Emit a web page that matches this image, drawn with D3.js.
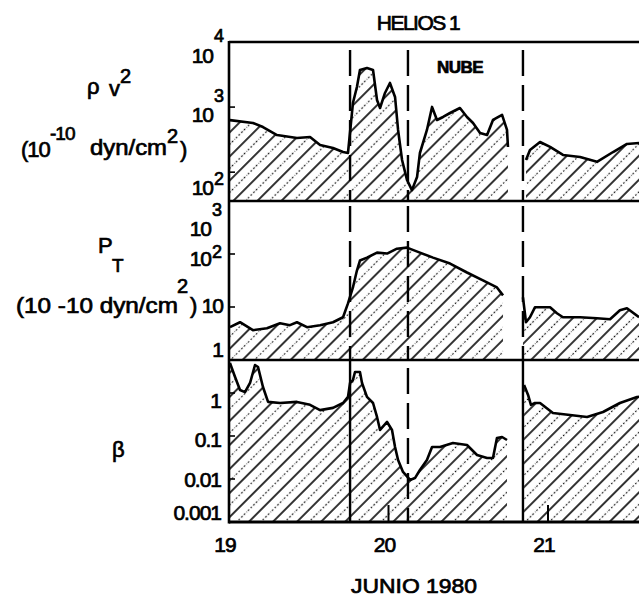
<!DOCTYPE html>
<html>
<head>
<meta charset="utf-8">
<script src="https://cdn.jsdelivr.net/npm/d3@7/dist/d3.min.js"></script>
<style>
  body { margin: 0; background: #fff; }
  svg { display: block; font-family: "Liberation Sans", Arial, sans-serif; }
  .lbl { fill: #000; stroke: #000; stroke-width: 0.7; }
</style>
</head>
<body>
<svg id="chart" width="639" height="601"></svg>
<script>
// ---- data: HELIOS 1, 19-21 June 1980 ----
const pv2Days = [19.006,19.150,19.213,19.301,19.426,19.508,19.571,19.652,19.715,19.746,
  19.777,19.802,19.821,19.865,19.903,19.928,19.947,19.978,20.009,20.041,20.060,20.085,
  20.116,20.147,20.179,20.197,20.241,20.273,20.304,20.342,20.386,20.448,20.492,20.530,
  20.574,20.618,20.655,20.712,20.743,20.749,20.800,
  20.862,20.887,20.950,21.013,21.094,21.201,21.307,21.408,21.495,21.571];
const pv2Values = [631,570,494,372,335,347,262,235,204,197,
  1155,2036,3715,3990,3715,1285,969,1648,2346,1429,445,154,
  76,53,84,197,445,1005,634,705,811,968,705,570,
  400,372,634,757,445,244,null,
  154,219,291,244,184,171,144,204,271,281];

const ptDays = [19.006,19.069,19.150,19.238,19.320,19.382,19.426,19.489,19.571,19.652,
  19.715,19.746,19.777,19.802,19.821,19.865,19.928,19.991,20.053,20.116,20.197,20.279,
  20.386,20.492,20.592,20.680,20.718,20.780,
  20.843,20.862,20.887,20.918,21.013,21.056,21.094,21.201,21.307,21.389,21.451,21.495,21.571];
const ptValues = [4.16,5.16,3.65,3.98,4.94,4.54,5.16,4.16,4.54,5.16,
  6.41,11.7,23.4,48.8,75.2,85.5,106,102,126,132,106,85.5,
  66,44.8,31.7,23.4,16.6,null,
  15.2,5.16,6.41,9.87,9.87,7.62,6.41,6.41,6.14,5.88,8.67,9.46,6.41];

const betaDays = [19.006,19.038,19.069,19.100,19.132,19.163,19.182,19.213,19.245,19.320,
  19.426,19.508,19.571,19.652,19.715,19.746,19.759,19.777,19.790,19.821,19.834,19.865,
  19.903,19.928,19.947,19.991,20.022,20.041,20.060,20.091,20.135,20.166,20.197,20.241,
  20.273,20.323,20.404,20.492,20.555,20.618,20.655,20.680,20.712,20.743,20.800,
  20.850,20.875,20.893,20.918,20.950,21.031,21.138,21.245,21.345,21.451,21.558,21.571];
const betaValues = [4.99,2.36,1.17,1.05,1.71,4.48,4.02,1.38,0.62,0.585,
  0.62,0.53,0.40,0.45,0.585,0.81,1.71,2.0,3.08,3.08,1.71,0.81,
  0.585,0.277,0.138,0.212,0.138,0.0555,0.0277,0.0146,0.0095,0.0105,0.0162,0.0277,
  0.0555,0.0555,0.0687,0.0618,0.0362,0.0308,0.0308,0.0898,0.0948,0.0807,null,
  1.53,0.90,0.53,0.585,0.585,0.343,0.308,0.277,0.361,0.585,0.81,0.82];

const dayTicks = [19, 20, 21];
const dayTickLabels = ["19", "20", "21"];
const cloudEdges = [19.759, 20.122, 20.843];

const pv2Ticks = [100, 1000, 10000];
const pv2TickLabels = [["10","2"], ["10","3"], ["10","4"]];
const ptTicks = [1, 10, 100, 1000];
const ptTickLabels = [["1",""], ["10",""], ["10","2"], ["10","3"]];
const betaTicks = [0.001, 0.01, 0.1, 1];
const betaTickLabels = [["0.001",""], ["0.01",""], ["0.1",""], ["1",""]];

// ---- layout ----
const svg = d3.select("#chart");
const left = 229, right = 639;
const x = d3.scaleLinear().domain([19, 21]).range([229, 548]);

const defs = svg.append("defs");
const pat = defs.append("pattern")
  .attr("id", "hatch").attr("patternUnits", "userSpaceOnUse")
  .attr("width", 17).attr("height", 17)
  .attr("patternTransform", "rotate(45)");
pat.append("line").attr("x1", 1).attr("x2", 1).attr("y1", -1).attr("y2", 18)
  .attr("stroke", "#000").attr("stroke-width", 1.6);
pat.append("line").attr("x1", 9.5).attr("x2", 9.5).attr("y1", -1).attr("y2", 18)
  .attr("stroke", "#000").attr("stroke-width", 1.2).attr("stroke-dasharray", "1.6,2.2");

const panels = [
  { id: "pv2", top: 42, bottom: 202, scale: d3.scaleLog().domain([34.8, 10000]).range([202, 42]),
    days: pv2Days, values: pv2Values, ticks: pv2Ticks, tickLabels: pv2TickLabels,
    labelDy: [23, 15, 21], supDy: [-10, -20, -21], labelX: 213, dashTop: 50, solidEdges: [] },
  { id: "pt", top: 201, bottom: 360, scale: d3.scaleLog().domain([1, 1000]).range([360, 201]),
    days: ptDays, values: ptValues, ticks: ptTicks, tickLabels: ptTickLabels,
    labelDy: [-3, 6, 12, 35], supDy: [0, 0, -8, -20], labelX: 223, dashTop: 206, solidEdges: [] },
  { id: "beta", top: 360, bottom: 522, scale: d3.scaleLog().domain([0.001, 5.85]).range([522, 360]),
    days: betaDays, values: betaValues, ticks: betaTicks, tickLabels: betaTickLabels,
    labelDy: [-2, 8, 11, 15], supDy: [0, 0, 0, 0], labelX: 221, dashTop: 368, solidEdges: [0, 2] }
];
// superscripted labels end a little further right
const supX = { pv2: 213, pt: 211 };

panels.forEach(p => {
  const clipId = "clip-" + p.id;
  defs.append("clipPath").attr("id", clipId)
    .append("rect").attr("x", left).attr("y", p.top).attr("width", right - left).attr("height", p.bottom - p.top);

  const pts = p.days.map((d, i) => ({ d, v: p.values[i] }));
  const g = svg.append("g").attr("clip-path", `url(#${clipId})`);

  const area = d3.area()
    .defined(e => e.v != null)
    .x(e => x(e.d)).y0(p.bottom).y1(e => p.scale(e.v));
  const line = d3.line()
    .defined(e => e.v != null)
    .x(e => x(e.d)).y(e => p.scale(e.v));

  g.append("path").attr("d", area(pts)).attr("fill", "url(#hatch)");
  g.append("path").attr("d", line(pts)).attr("fill", "none")
    .attr("stroke", "#000").attr("stroke-width", 2.6).attr("stroke-linejoin", "round");

  // cloud boundaries
  cloudEdges.forEach((c, i) => {
    const solid = p.solidEdges.includes(i);
    g.append("line")
      .attr("x1", x(c)).attr("x2", x(c))
      .attr("y1", solid ? p.top : p.dashTop).attr("y2", p.bottom)
      .attr("stroke", "#000").attr("stroke-width", 2.4)
      .attr("stroke-dasharray", solid ? null : "26,9");
  });

  // left-axis ticks
  p.ticks.forEach((t, i) => {
    const ty = p.scale(t);
    svg.append("line").attr("x1", left).attr("x2", left + 6)
      .attr("y1", ty).attr("y2", ty).attr("stroke", "#000").attr("stroke-width", 1.6);
    const [base, sup] = p.tickLabels[i];
    svg.append("text").attr("class", "lbl")
      .attr("text-anchor", "end")
      .attr("x", sup ? supX[p.id] : p.labelX)
      .attr("y", ty + p.labelDy[i])
      .attr("font-size", 21).attr("letter-spacing", -1)
      .text(base);
    if (sup) {
      svg.append("text").attr("class", "lbl")
        .attr("x", supX[p.id] + 1)
        .attr("y", ty + p.labelDy[i] + p.supDy[i])
        .attr("font-size", 18)
        .text(sup);
    }
  });

  // panel frame line
  svg.append("line").attr("x1", left).attr("x2", right)
    .attr("y1", p.top).attr("y2", p.top).attr("stroke", "#000").attr("stroke-width", 2.6);
});

// bottom axis and left axis
svg.append("line").attr("x1", left).attr("x2", right).attr("y1", 522).attr("y2", 522)
  .attr("stroke", "#000").attr("stroke-width", 3.2);
svg.append("line").attr("x1", left).attr("x2", left).attr("y1", 41).attr("y2", 523.5)
  .attr("stroke", "#000").attr("stroke-width", 2.6);

dayTicks.forEach((d, i) => {
  if (i > 0) {
    svg.append("line").attr("x1", x(d)).attr("x2", x(d)).attr("y1", 522).attr("y2", 505)
      .attr("stroke", "#000").attr("stroke-width", 2);
  }
  svg.append("text").attr("class", "lbl")
    .attr("x", x(d) - 4).attr("y", 552).attr("text-anchor", "middle")
    .attr("font-size", 21).attr("letter-spacing", -1)
    .text(dayTickLabels[i]);
});

// titles and axis names
const T = (tx, ty, s, size, opts = {}) => {
  const t = svg.append("text").attr("class", "lbl").attr("x", tx).attr("y", ty)
    .attr("font-size", size).text(s);
  if (opts.anchor) t.attr("text-anchor", opts.anchor);
  if (opts.weight) t.attr("font-weight", opts.weight);
  if (opts.ls != null) t.attr("letter-spacing", opts.ls);
  if (opts.len) t.attr("textLength", opts.len).attr("lengthAdjust", "spacingAndGlyphs");
  return t;
};

T(418, 30, "HELIOS 1", 21, { anchor: "middle", ls: -1.5 });
T(460, 73, "NUBE", 17, { anchor: "middle", weight: "bold", ls: -0.5 });
T(351, 593, "JUNIO 1980", 21, { len: 126 });

// rho v^2 and its units
T(87, 94, "ρ", 22);
T(109, 96, "v", 22);
T(120, 83, "2", 20);
T(21, 157, "(10", 22, { ls: -1 });
T(50, 140, "-10", 19, { ls: -1 });
T(90, 155, "dyn/cm", 22, { len: 77 });
T(167, 143, "2", 20);
T(180, 157, ")", 22);

// total pressure and its units
T(98, 253, "P", 22);
T(112, 272, "T", 19);
T(16, 313, "(10 -10 dyn/cm", 22, { len: 162 });
T(177, 293, "2", 20);
T(190, 313, ")", 22);

// plasma beta
T(112, 457, "β", 22);
</script>
</body>
</html>
